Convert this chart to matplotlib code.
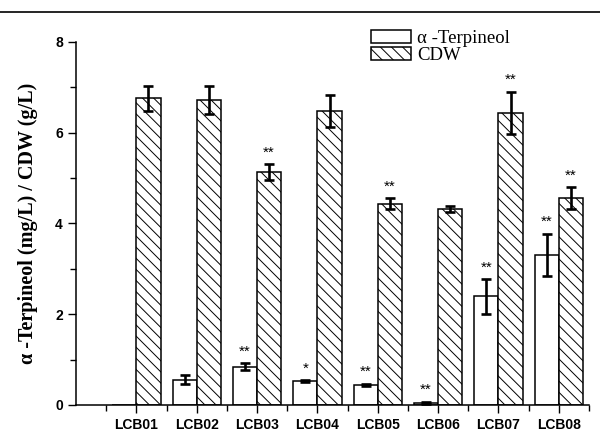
import numpy as np
import matplotlib.pyplot as plt
from matplotlib.lines import Line2D

strains = ['LCB01', 'LCB02', 'LCB03', 'LCB04', 'LCB05', 'LCB06', 'LCB07', 'LCB08']
terpineol = [0.0, 0.56, 0.84, 0.53, 0.44, 0.05, 2.39, 3.31]
terpineol_err = [0.0, 0.09, 0.08, 0.02, 0.03, 0.02, 0.38, 0.46]
cdw = [6.75, 6.71, 5.13, 6.48, 4.43, 4.32, 6.43, 4.55]
cdw_err = [0.27, 0.31, 0.18, 0.35, 0.12, 0.07, 0.47, 0.24]
terpineol_sig = ['', '', '**', '*', '**', '**', '**', '**']
cdw_sig = ['', '', '**', '', '**', '', '**', '**']

plt.rcParams['hatch.linewidth'] = 0.7
plt.rcParams['hatch.color'] = '#333333'

fig = plt.figure(figsize=(6, 4.32), dpi=100)
ax = fig.add_axes([0.1267, 0.0625, 0.855, 0.841])

x = np.arange(1, len(strains) + 1)
w = 0.4
err_kw = dict(ecolor='black', elinewidth=1.9, capsize=3.5, capthick=1.9)
ax.bar(x - w / 2, terpineol, w, color='white', edgecolor='black', linewidth=1.1,
       label='\u03b1 -Terpineol')
ax.bar(x + w / 2, cdw, w, color='white', edgecolor='black', linewidth=1.1,
       hatch='\\\\\\', label='CDW')
ax.errorbar(x[1:] - w / 2, terpineol[1:], yerr=terpineol_err[1:], fmt='none', **err_kw)
ax.errorbar(x + w / 2, cdw, yerr=cdw_err, fmt='none', **err_kw)

star_font = dict(family='Liberation Sans', fontsize=11, ha='center', va='bottom')
for i in range(len(strains)):
    if terpineol_sig[i]:
        ax.text(x[i] - w / 2, terpineol[i] + terpineol_err[i] + 0.1, terpineol_sig[i], **star_font)
    if cdw_sig[i]:
        ax.text(x[i] + w / 2, cdw[i] + cdw_err[i] + 0.1, cdw_sig[i], **star_font)

ax.set_xlim(0, 8.5)
ax.set_ylim(0, 8)
ax.set_xticks(x)
ax.set_xticklabels(strains, family='Liberation Sans', fontweight='bold', fontsize=10)
ax.set_xticks(np.arange(0.5, 8.6, 1), minor=True)
ax.set_yticks([0, 2, 4, 6, 8])
ax.set_yticklabels(['0', '2', '4', '6', '8'], family='Liberation Sans', fontweight='bold', fontsize=10)
ax.set_yticks([1, 3, 5, 7], minor=True)
ax.tick_params(which='major', length=6, width=1, direction='out')
ax.tick_params(which='minor', length=4, width=1, direction='out')
for side in ['top', 'right']:
    ax.spines[side].set_visible(False)
for side in ['left', 'bottom']:
    ax.spines[side].set_linewidth(1.1)

ax.set_ylabel('\u03b1 -Terpineol (mg/L) / CDW (g/L)', family='Liberation Serif',
              fontweight='bold', fontsize=14.5, labelpad=12)

ax.legend(loc='upper left', bbox_to_anchor=(0.557, 1.058), frameon=False,
          prop={'family': 'Liberation Serif', 'size': 13.5}, handlelength=2.1,
          handleheight=0.7, handletextpad=0.35, labelspacing=0.0, borderpad=0)

fig.add_artist(Line2D([0, 1], [1 - 12 / 432, 1 - 12 / 432], color='black', linewidth=1.2,
                      transform=fig.transFigure))

fig.savefig('out.png', dpi=100)
